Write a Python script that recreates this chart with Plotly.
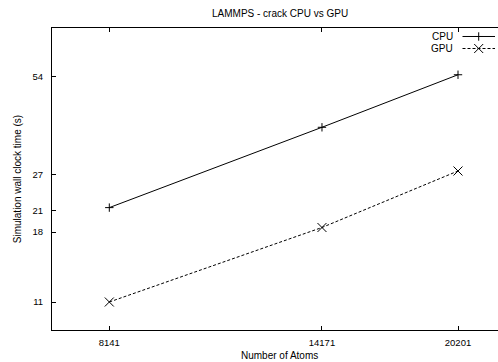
import plotly.graph_objects as go

# Timings of the LAMMPS crack benchmark
atoms = [8141, 14171, 20201]
cpu_time = [21.4, 37.7, 54.6]
gpu_time = [11.0, 18.6, 27.7]

y_ticks = [11, 18, 21, 27, 54]
x_ticks = [8141, 14171, 20201]

FONT = "Liberation Sans, Arial, Helvetica, sans-serif"
INK = "#000000"

fig = go.Figure()

fig.add_trace(go.Scatter(
    x=atoms, y=cpu_time, mode="lines+markers", name="CPU",
    line=dict(color=INK, width=1),
    marker=dict(symbol="cross-thin", size=6, line=dict(color=INK, width=1)),
    showlegend=False,
))
fig.add_trace(go.Scatter(
    x=atoms, y=gpu_time, mode="lines+markers", name="GPU",
    line=dict(color=INK, width=1, dash="3px,2px"),
    marker=dict(symbol="x-thin", size=9, line=dict(color=INK, width=1)),
    showlegend=False,
))

# Key (text on the left, sample on the right) on a unit overlay axis
key_y = [0.9719, 0.9321]
key_names = ["CPU", "GPU"]
key_dash = ["solid", "3px,2px"]
key_sym = ["cross-thin", "x-thin"]
key_size = [6, 9]
for ky, nm, dsh, sym, sz in zip(key_y, key_names, key_dash, key_sym, key_size):
    fig.add_trace(go.Scatter(
        x=[0.9204, 0.9933], y=[ky, ky], mode="lines", xaxis="x2", yaxis="y2",
        line=dict(color=INK, width=1, dash=dsh), showlegend=False, hoverinfo="skip",
    ))
    fig.add_trace(go.Scatter(
        x=[0.9567], y=[ky], mode="markers", xaxis="x2", yaxis="y2",
        marker=dict(symbol=sym, size=sz, line=dict(color=INK, width=1)),
        showlegend=False, hoverinfo="skip",
    ))
    fig.add_annotation(
        x=0.9036, y=ky, xref="paper", yref="paper", text=nm, showarrow=False,
        xanchor="right", yanchor="middle", font=dict(family=FONT, size=10, color=INK),
    )

fig.update_layout(
    width=498, height=362,
    margin=dict(l=52, r=0, t=28, b=32),
    paper_bgcolor="white", plot_bgcolor="white",
    font=dict(family=FONT, size=9.5, color=INK),
    showlegend=False,
    xaxis=dict(
        type="log", range=[3.84582, 4.35065],
        tickvals=x_ticks, ticktext=[str(v) for v in x_ticks],
        ticks="inside", ticklen=4, tickcolor=INK, tickwidth=1,
        showline=True, linecolor=INK, linewidth=1, mirror="ticks",
        showgrid=False, zeroline=False, ticklabelstandoff=4,
    ),
    yaxis=dict(
        type="log", range=[0.95566, 1.88034],
        tickvals=y_ticks, ticktext=[str(v) for v in y_ticks],
        ticks="inside", ticklen=4, tickcolor=INK, tickwidth=1,
        showline=True, linecolor=INK, linewidth=1,
        showgrid=False, zeroline=False, ticklabelstandoff=6,
    ),
    xaxis2=dict(overlaying="x", range=[0, 1], visible=False),
    yaxis2=dict(overlaying="y", range=[0, 1], visible=False),
)

fig.add_annotation(
    x=0.511, y=1.0487, xref="paper", yref="paper", text="LAMMPS - crack CPU vs GPU",
    showarrow=False, xanchor="center", yanchor="middle",
    font=dict(family=FONT, size=10, color=INK),
)
fig.add_annotation(
    x=0.511, y=-0.086, xref="paper", yref="paper", text="Number of Atoms",
    showarrow=False, xanchor="center", yanchor="middle",
    font=dict(family=FONT, size=10, color=INK),
)
fig.add_annotation(
    x=-0.078, y=0.5, xref="paper", yref="paper", text="Simulation wall clock time (s)",
    showarrow=False, xanchor="center", yanchor="middle", textangle=-90,
    font=dict(family=FONT, size=10, color=INK),
)

fig.write_html("out.html")
